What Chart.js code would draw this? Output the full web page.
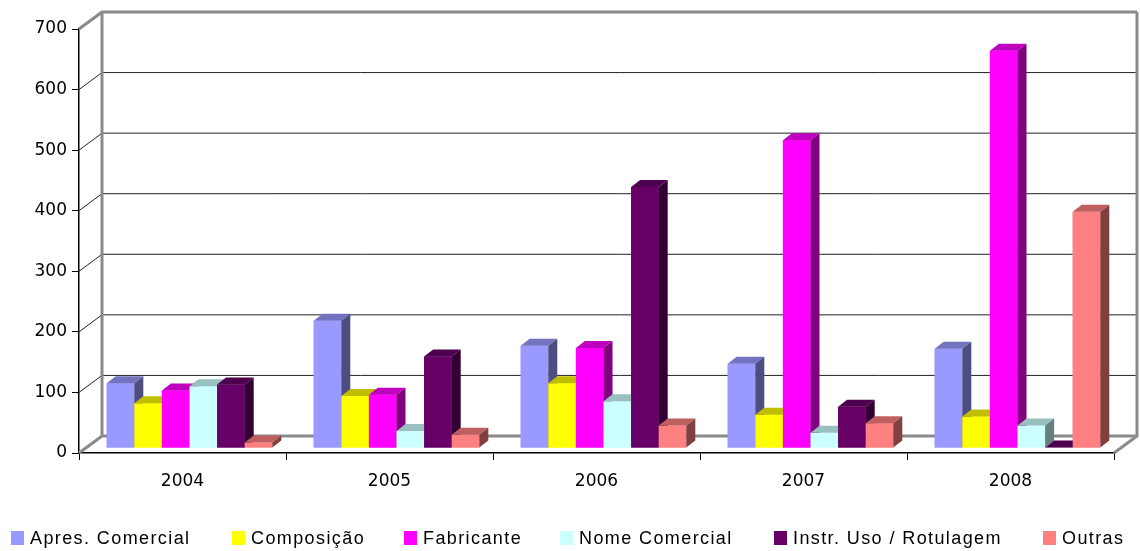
<!DOCTYPE html>
<html>
<head>
<meta charset="utf-8">
<script src="https://cdn.jsdelivr.net/npm/chart.js@4.4.0/dist/chart.umd.min.js"></script>
<style>
  html, body { margin: 0; padding: 0; background: #fff; }
</style>
</head>
<body>
<canvas id="chart" width="1140" height="551"></canvas>
<script>
// data
const years = ['2004', '2005', '2006', '2007', '2008'];
const seriesNames = ['Apres. Comercial', 'Composição', 'Fabricante', 'Nome Comercial', 'Instr. Uso / Rotulagem', 'Outras'];
const apresComercial = [107, 210, 169, 139, 164];
const composicao = [74, 86, 107, 55, 52];
const fabricante = [95, 88, 165, 508, 656];
const nomeComercial = [102, 28, 77, 25, 37];
const instrUso = [105, 151, 431, 68, 1];
const outras = [9, 22, 37, 41, 390];
const yMax = 700;
const yStep = 100;

const seriesValues = [apresComercial, composicao, fabricante, nomeComercial, instrUso, outras];
const colors = ['#9999FF', '#FFFF00', '#FF00FF', '#CCFFFF', '#660066', '#FF8080'];

// fake 3d: back wall offset and bar offset
const WALL_DX = 23, WALL_DY = -17;
const BAR_DX = 7, BAR_DY = -5;
const FACE_DX = 9, FACE_DY = -7;
const legendX = [11, 232, 404, 560, 774, 1043];

function shade(hex, f) {
  var n = parseInt(hex.slice(1), 16);
  var r = Math.round(((n >> 16) & 255) * f);
  var g = Math.round(((n >> 8) & 255) * f);
  var b = Math.round((n & 255) * f);
  return 'rgb(' + r + ',' + g + ',' + b + ')';
}

function drawWalls(chart) {
  var ctx = chart.ctx;
  var a = chart.chartArea;
  var y = chart.scales.y;
  ctx.save();
  for (var v = 0; v <= yMax; v += yStep) {
    var py = y.getPixelForValue(v);
    var edge = (v == 0 || v == yMax);
    ctx.strokeStyle = edge ? '#8a8a8a' : '#222';
    ctx.lineWidth = edge ? 3 : 1;
    ctx.beginPath();
    ctx.moveTo(a.left, py);
    ctx.lineTo(a.left + WALL_DX, py + WALL_DY);
    ctx.lineTo(a.right + WALL_DX, py + WALL_DY);
    ctx.stroke();
  }
  // wall sides
  ctx.strokeStyle = '#8a8a8a';
  ctx.lineWidth = 3;
  var top = y.getPixelForValue(yMax) + WALL_DY;
  var bot = y.getPixelForValue(0) + WALL_DY;
  ctx.beginPath();
  ctx.moveTo(a.left + WALL_DX, top);
  ctx.lineTo(a.left + WALL_DX, bot);
  ctx.moveTo(a.right + WALL_DX, top);
  ctx.lineTo(a.right + WALL_DX, bot);
  ctx.lineTo(a.right, a.bottom);
  ctx.stroke();
  ctx.restore();
}

function drawFaces(ctx, el, col) {
  var left = el.x - el.width / 2;
  var right = el.x + el.width / 2;
  var top = Math.min(el.y, el.base);
  var base = Math.max(el.y, el.base);
  ctx.fillStyle = shade(col, 0.75);
  ctx.beginPath();
  ctx.moveTo(left, top);
  ctx.lineTo(right, top);
  ctx.lineTo(right + FACE_DX, top + FACE_DY);
  ctx.lineTo(left + FACE_DX, top + FACE_DY);
  ctx.closePath();
  ctx.fill();
  ctx.fillStyle = shade(col, 0.5);
  ctx.beginPath();
  ctx.moveTo(right, top);
  ctx.lineTo(right + FACE_DX, top + FACE_DY);
  ctx.lineTo(right + FACE_DX, base + FACE_DY);
  ctx.lineTo(right, base);
  ctx.closePath();
  ctx.fill();
}

const depthPlugin = {
  id: 'depth',
  beforeDatasetsDraw(chart) {
    drawWalls(chart);
    chart.ctx.save();
    chart.ctx.translate(BAR_DX, BAR_DY);
  },
  afterDatasetsDraw(chart) {
    var ctx = chart.ctx;
    // painter order: left series first, so the next front face hides the side
    for (var j = 0; j < years.length; j++) {
      for (var i = 0; i < seriesNames.length; i++) {
        var el = chart.getDatasetMeta(i).data[j];
        el.draw(ctx);
        drawFaces(ctx, el, colors[i]);
      }
    }
    ctx.restore();
  },
  afterDraw(chart) {
    var ctx = chart.ctx;
    ctx.save();
    ctx.font = '18px "Liberation Sans", Arial, sans-serif';
    ctx.letterSpacing = '1.4px';
    ctx.textBaseline = 'middle';
    ctx.fillStyle = '#000';
    for (var i = 0; i < seriesNames.length; i++) {
      ctx.fillStyle = colors[i];
      ctx.fillRect(legendX[i], 531, 13, 14);
      ctx.fillStyle = '#000';
      ctx.fillText(chart.data.datasets[i].label, legendX[i] + 19, 539);
    }
    ctx.restore();
  }
};

var datasets = [];
for (var i = 0; i < seriesNames.length; i++) {
  datasets.push({
    label: seriesNames[i],
    data: seriesValues[i],
    backgroundColor: colors[i],
    borderWidth: 0,
    categoryPercentage: 0.8,
    barPercentage: 1.0
  });
}

var ctx = document.getElementById('chart').getContext('2d');
var myChart = new Chart(ctx, {
  type: 'bar',
  data: { labels: years, datasets: datasets },
  options: {
    responsive: false,
    animation: false,
    layout: { padding: { left: 0, top: 29, right: 26, bottom: 0 } },
    plugins: {
      legend: { display: false },
      tooltip: { enabled: false }
    },
    scales: {
      x: {
        grid: { drawOnChartArea: false, drawTicks: true, tickLength: 7, color: '#000', lineWidth: 1 },
        border: { display: true, color: '#000', width: 1.5 },
        ticks: { color: '#000', font: { family: 'DejaVu Sans', size: 17 }, padding: 11 },
        afterFit: function (s) { s.height = 98; }
      },
      y: {
        min: 0,
        max: yMax,
        grid: { drawOnChartArea: false, drawTicks: true, tickLength: 7, color: '#000', lineWidth: 1 },
        border: { display: true, color: '#000', width: 1.5 },
        ticks: { stepSize: yStep, color: '#000', font: { family: 'DejaVu Sans', size: 17 }, padding: 5 },
        afterFit: function (s) { s.width = 79; }
      }
    }
  },
  plugins: [depthPlugin]
});
</script>
</body>
</html>
